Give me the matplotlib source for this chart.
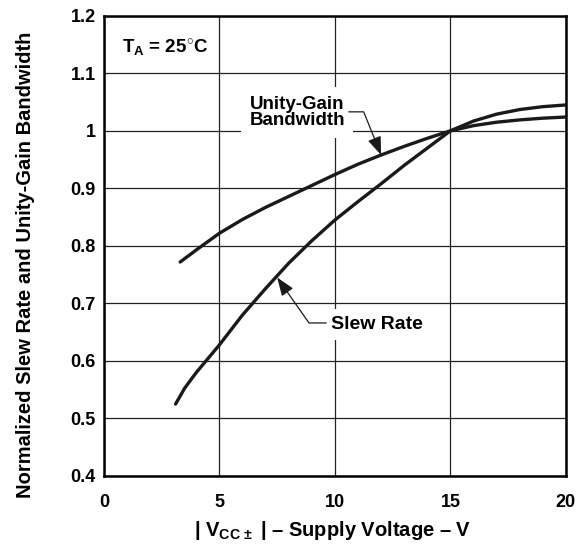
import numpy as np
import matplotlib
matplotlib.use("Agg")
import matplotlib.pyplot as plt

plt.rcParams['font.family'] = ['Liberation Sans', 'DejaVu Sans']
plt.rcParams['font.weight'] = 'bold'
plt.rcParams['axes.labelweight'] = 'bold'
plt.rcParams['mathtext.fontset'] = 'custom'
plt.rcParams['mathtext.rm'] = 'Liberation Sans:bold'
plt.rcParams['mathtext.bf'] = 'Liberation Sans:bold'
plt.rcParams['mathtext.it'] = 'Liberation Sans:bold'

# slew rate (normalized to 15 V)
sr_vcc = [3.1, 3.5, 4, 5, 6, 7, 8, 9, 10, 11, 12, 13, 14, 15, 16, 17, 18, 19, 20]
sr_val = [0.525, 0.553, 0.58, 0.628, 0.68, 0.726, 0.77, 0.809, 0.845, 0.877, 0.908,
          0.94, 0.97, 1.0, 1.017, 1.029, 1.037, 1.042, 1.045]

# unity-gain bandwidth (normalized to 15 V)
ugb_vcc = [3.3, 4, 5, 6, 7, 8, 9, 10, 11, 12, 13, 14, 15, 16, 17, 18, 19, 20]
ugb_val = [0.772, 0.793, 0.822, 0.846, 0.867, 0.886, 0.905, 0.924, 0.942, 0.958,
           0.973, 0.987, 1.0, 1.009, 1.015, 1.019, 1.022, 1.024]

x_ticks = [0, 5, 10, 15, 20]
y_ticks = [0.4, 0.5, 0.6, 0.7, 0.8, 0.9, 1.0, 1.1, 1.2]
y_tick_labels = ['0.4', '0.5', '0.6', '0.7', '0.8', '0.9', '1', '1.1', '1.2']

fig = plt.figure(figsize=(5.84, 5.44), dpi=100)
ax = fig.add_axes([0.178, 0.125, 0.791, 0.846])

ax.plot(sr_vcc, sr_val, color='#1a1a1a', lw=2.4, solid_capstyle='round', zorder=3)
ax.plot(ugb_vcc, ugb_val, color='#1a1a1a', lw=2.4, solid_capstyle='round', zorder=3)

ax.set_xlim(0, 20)
ax.set_ylim(0.4, 1.2)
ax.set_xticks(x_ticks)
ax.set_yticks(y_ticks)
ax.set_yticklabels(y_tick_labels)
ax.tick_params(axis='both', length=0, labelsize=13)
ax.tick_params(axis='x', pad=13)
ax.tick_params(axis='y', pad=6)
ax.grid(True, color='#222222', lw=0.9)
ax.set_axisbelow(True)
for s in ax.spines.values():
    s.set_linewidth(1.8)

ax.set_xlabel(r'| V$_{\mathrm{CC}\,\pm}$ | – Supply Voltage – V', fontsize=14.5)
ax.xaxis.set_label_coords(0.495, -0.093)
ax.set_ylabel('Normalized Slew Rate and Unity-Gain Bandwidth', fontsize=14.5)
ax.yaxis.set_label_coords(-0.149, 0.459)

ax.text(0.78, 1.144, r'T$_{\mathrm{A}}$ = 25$^{\circ}$C', fontsize=13.5, ha='left', va='center',
        zorder=5)

# labels with white boxes that cut the grid
ax.text(8.37, 1.032, 'Unity-Gain\nBandwidth', fontsize=13.5, ha='center', va='center',
        linespacing=0.95, zorder=4,
        bbox=dict(boxstyle='square,pad=0.45', fc='white', ec='none'))
ax.text(9.83, 0.663, 'Slew Rate', fontsize=14, ha='left', va='center', zorder=4,
        bbox=dict(boxstyle='square,pad=0.35', fc='white', ec='none'))

arrow = dict(arrowstyle='-|>,head_length=0.8,head_width=0.3', color='#1a1a1a',
             lw=0.9, mutation_scale=14, shrinkA=0, shrinkB=0)
ax.annotate('', xy=(12.0, 0.958), xytext=(10.6, 1.033),
            arrowprops=dict(arrow, connectionstyle='angle,angleA=0,angleB=-68,rad=0'),
            zorder=6)
ax.annotate('', xy=(7.5, 0.745), xytext=(9.62, 0.666),
            arrowprops=dict(arrow, connectionstyle='angle,angleA=180,angleB=-55,rad=0'),
            zorder=6)

fig.savefig('out.png', dpi=100)
